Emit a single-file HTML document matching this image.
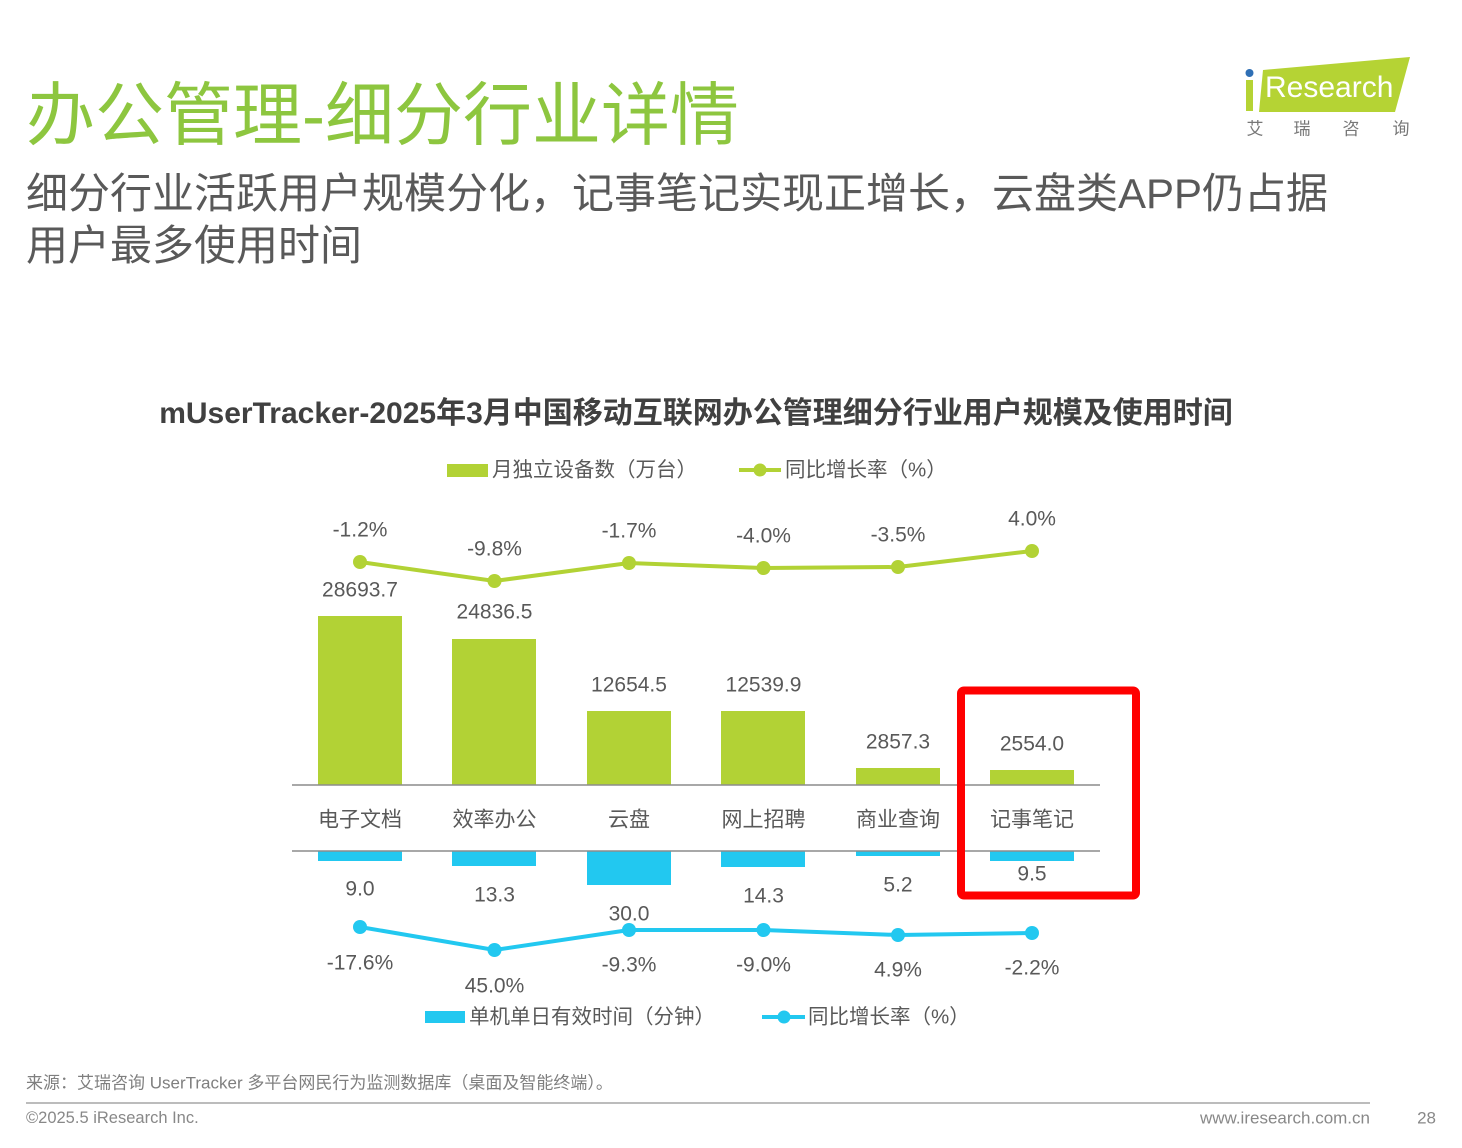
<!DOCTYPE html>
<html><head><meta charset="utf-8">
<style>
html,body{margin:0;padding:0;background:#fff;}
svg{display:block;}
text{font-family:"Liberation Sans","Noto Sans CJK SC",sans-serif;}
</style></head>
<body>
<svg width="1462" height="1148" viewBox="0 0 1462 1148" xmlns="http://www.w3.org/2000/svg">
<rect width="1462" height="1148" fill="#fff"/>
<!-- Title -->
<text x="26" y="139" font-size="69" fill="#8dc63f">办公管理-细分行业详情</text>
<text x="26" y="208" font-size="42" fill="#595959">细分行业活跃用户规模分化，记事笔记实现正增长，云盘类APP仍占据</text>
<text x="26" y="260" font-size="42" fill="#595959">用户最多使用时间</text>

<!-- Logo -->
<polygon points="1263,70 1410,57 1395,112 1259,112" fill="#b5d334"/>
<rect x="1246" y="80" width="7" height="31" fill="#b5d334"/>
<circle cx="1249.5" cy="73" r="4" fill="#2f6fb5"/>
<text x="1265" y="97" font-size="30" fill="#fff">Research</text>
<g font-size="17" fill="#777" text-anchor="middle" dominant-baseline="central">
<text x="1255" y="129">艾</text><text x="1302" y="129">瑞</text><text x="1351" y="129">咨</text><text x="1401" y="129">询</text>
</g>

<!-- Chart title -->
<text x="696" y="423" font-size="30" font-weight="bold" fill="#404040" text-anchor="middle">mUserTracker-2025年3月中国移动互联网办公管理细分行业用户规模及使用时间</text>

<!-- Top legend -->
<rect x="447" y="464" width="41" height="13" fill="#b2d235"/>
<text x="492" y="470" font-size="20.5" fill="#595959" dominant-baseline="central">月独立设备数（万台）</text>
<line x1="739" y1="470" x2="781" y2="470" stroke="#b2d235" stroke-width="4"/>
<circle cx="760" cy="470" r="6.5" fill="#b2d235"/>
<text x="785" y="470" font-size="20.5" fill="#595959" dominant-baseline="central">同比增长率（%）</text>

<!-- Green bars -->
<g fill="#b2d235">
<rect x="318" y="616" width="84" height="169"/>
<rect x="452" y="639" width="84" height="146"/>
<rect x="587" y="711" width="84" height="74"/>
<rect x="721" y="711" width="84" height="74"/>
<rect x="856" y="768" width="84" height="17"/>
<rect x="990" y="770" width="84" height="15"/>
</g>
<!-- Blue bars -->
<g fill="#22c8f0">
<rect x="318" y="851" width="84" height="10"/>
<rect x="452" y="851" width="84" height="15"/>
<rect x="587" y="851" width="84" height="34"/>
<rect x="721" y="851" width="84" height="16"/>
<rect x="856" y="851" width="84" height="5"/>
<rect x="990" y="851" width="84" height="10"/>
</g>
<!-- axes -->
<line x1="292" y1="785" x2="1100" y2="785" stroke="#8c8c8c" stroke-width="1.5"/>
<line x1="292" y1="851" x2="1100" y2="851" stroke="#8c8c8c" stroke-width="1.5"/>

<!-- Green line -->
<polyline points="360,562 494.5,581 629,563 763.5,568 898,567 1032,551" fill="none" stroke="#b2d235" stroke-width="4"/>
<g fill="#b2d235">
<circle cx="360" cy="562" r="7"/><circle cx="494.5" cy="581" r="7"/><circle cx="629" cy="563" r="7"/>
<circle cx="763.5" cy="568" r="7"/><circle cx="898" cy="567" r="7"/><circle cx="1032" cy="551" r="7"/>
</g>
<!-- Blue line -->
<polyline points="360,927 494.5,950 629,930 763.5,930 898,935 1032,933" fill="none" stroke="#22c8f0" stroke-width="4"/>
<g fill="#22c8f0">
<circle cx="360" cy="927" r="7"/><circle cx="494.5" cy="950" r="7"/><circle cx="629" cy="930" r="7"/>
<circle cx="763.5" cy="930" r="7"/><circle cx="898" cy="935" r="7"/><circle cx="1032" cy="933" r="7"/>
</g>

<g font-size="21" fill="#595959" text-anchor="middle" dominant-baseline="central">
<text x="360" y="530">-1.2%</text>
<text x="494.5" y="549">-9.8%</text>
<text x="629" y="531">-1.7%</text>
<text x="763.5" y="536">-4.0%</text>
<text x="898" y="535">-3.5%</text>
<text x="1032" y="519">4.0%</text>
<text x="360" y="590">28693.7</text>
<text x="494.5" y="612">24836.5</text>
<text x="629" y="685">12654.5</text>
<text x="763.5" y="685">12539.9</text>
<text x="898" y="742">2857.3</text>
<text x="1032" y="744">2554.0</text>
<text x="360" y="820">电子文档</text>
<text x="494.5" y="820">效率办公</text>
<text x="629" y="820">云盘</text>
<text x="763.5" y="820">网上招聘</text>
<text x="898" y="820">商业查询</text>
<text x="1032" y="820">记事笔记</text>
<text x="360" y="889">9.0</text>
<text x="494.5" y="895">13.3</text>
<text x="629" y="914">30.0</text>
<text x="763.5" y="896">14.3</text>
<text x="898" y="885">5.2</text>
<text x="1032" y="874">9.5</text>
<text x="360" y="963">-17.6%</text>
<text x="494.5" y="986">45.0%</text>
<text x="629" y="965">-9.3%</text>
<text x="763.5" y="965">-9.0%</text>
<text x="898" y="970">4.9%</text>
<text x="1032" y="968">-2.2%</text>
</g>

<!-- Red highlight box -->
<rect x="961" y="690.5" width="175" height="205" rx="3" fill="none" stroke="#ff0000" stroke-width="8"/>

<!-- Bottom legend -->
<rect x="425" y="1011" width="40" height="12" fill="#22c8f0"/>
<text x="469" y="1017" font-size="20.5" fill="#595959" dominant-baseline="central">单机单日有效时间（分钟）</text>
<line x1="762" y1="1017" x2="805" y2="1017" stroke="#22c8f0" stroke-width="4"/>
<circle cx="784" cy="1017" r="6.5" fill="#22c8f0"/>
<text x="808" y="1017" font-size="20.5" fill="#595959" dominant-baseline="central">同比增长率（%）</text>

<!-- Footer -->
<text x="26" y="1083" font-size="17" fill="#7f7f7f" dominant-baseline="central">来源：艾瑞咨询 UserTracker 多平台网民行为监测数据库（桌面及智能终端）。</text>
<line x1="26" y1="1103" x2="1370" y2="1103" stroke="#a6a6a6" stroke-width="1.5"/>
<text x="26" y="1118" font-size="16.5" fill="#888" dominant-baseline="central">©2025.5 iResearch Inc.</text>
<text x="1370" y="1118" font-size="17" fill="#888" text-anchor="end" dominant-baseline="central">www.iresearch.com.cn</text>
<text x="1436" y="1118" font-size="17" fill="#888" text-anchor="end" dominant-baseline="central">28</text>
</svg>
</body></html>
